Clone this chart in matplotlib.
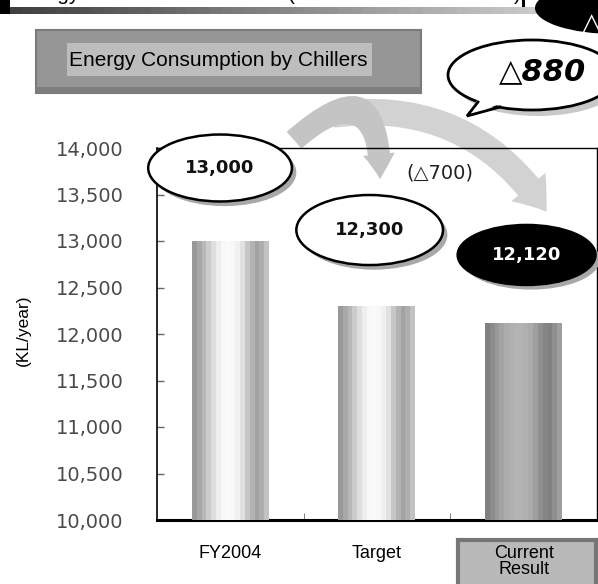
import matplotlib.pyplot as plt
import numpy as np
from matplotlib.patches import Ellipse, Rectangle, FancyArrowPatch, Polygon
from matplotlib.ticker import FuncFormatter

# chiller energy use, KL/year
categories = ["FY2004", "Target", "Current\nResult"]
consumption = [13000, 12300, 12120]
y_ticks = [10000, 10500, 11000, 11500, 12000, 12500, 13000, 13500, 14000]

# callout layout (offsets from the bar top, in data units)
label_dx = [-0.07, -0.05, 0.02]
label_dy = [785, 818, 730]
label_w = [0.98, 1.0, 0.94]
label_h = [720, 753, 645]
label_face = ["white", "white", "black"]
label_text = ["#111111", "#111111", "white"]

# grey shading across each cylinder-like bar
light_profile = [0.60, 0.66, 0.72, 0.80, 0.87, 0.93, 0.97, 0.98,
                 0.97, 0.94, 0.88, 0.78, 0.70, 0.64, 0.68, 0.76]
dark_profile = [0.50, 0.55, 0.60, 0.64, 0.67, 0.69, 0.70, 0.70,
                0.69, 0.67, 0.62, 0.56, 0.52, 0.50, 0.56, 0.62]
bar_profiles = [light_profile, light_profile, dark_profile]

plt.rcParams['font.family'] = ['Liberation Sans', 'DejaVu Sans']

fig = plt.figure(figsize=(5.98, 5.84), dpi=100)

# pixel-space layer for the header, title box, arrows and speech bubble
deco = fig.add_axes([0, 0, 1, 1], zorder=0)
deco.set_xlim(0, 598)
deco.set_ylim(584, 0)
deco.axis('off')

ax = fig.add_axes([157 / 598, 1 - 520 / 584, 440 / 598, 372 / 584], zorder=1)
ax.patch.set_alpha(0)

# bars with a vertical stripe gradient
x = np.arange(len(categories))
bw = 0.525
ax.set_xlim(-0.5, 2.5)
ax.set_ylim(y_ticks[0], y_ticks[-1])
bars = ax.bar(x, consumption, width=bw, color="#bbbbbb", zorder=2)
for b, xi, v, prof in zip(bars, x, consumption, bar_profiles):
    im = ax.imshow(np.array(prof)[np.newaxis, :], cmap='gray', vmin=0, vmax=1,
                   extent=(xi - bw / 2, xi + bw / 2, y_ticks[0], v),
                   aspect='auto', interpolation='nearest', zorder=3)
    im.set_clip_path(b)
ax.set_xlim(-0.5, 2.5)
ax.set_ylim(y_ticks[0], y_ticks[-1])
ax.set_aspect('auto')

# axes styling
ax.set_yticks(y_ticks)
ax.yaxis.set_major_formatter(FuncFormatter(lambda v, p: f"{int(v):,}"))
ax.tick_params(axis='y', direction='in', length=5, width=1, color='#666666',
               pad=24, labelsize=14, labelcolor='#4a4a4a')
for t in ax.get_yticklabels():
    t.set_fontfamily('DejaVu Sans')
ax.set_xticks(x, categories)
ax.tick_params(axis='x', length=0, pad=18, labelsize=13)
for t in ax.get_xticklabels():
    t.set_linespacing(0.9)
ax.set_xticks([0.5, 1.5], minor=True)
ax.tick_params(axis='x', which='minor', direction='in', length=5, color='#666666')
ax.spines['left'].set_linewidth(1.2)
ax.spines['top'].set_linewidth(1.0)
ax.spines['right'].set_linewidth(1.0)
ax.spines['bottom'].set_linewidth(2.2)

# grey box behind the last category name
ax.add_patch(Rectangle((2 - 0.445, -0.3), 0.935, 0.246,
                       transform=ax.get_xaxis_transform(), clip_on=False,
                       facecolor='#b9b9b9', edgecolor='#767676', lw=3, zorder=1))

# value callouts
for xi, v, dx, dy, w, h, fc, tc in zip(x, consumption, label_dx, label_dy,
                                       label_w, label_h, label_face, label_text):
    cx, cy = xi + dx, v + dy
    ax.add_patch(Ellipse((cx + 0.03, cy - 50), w, h, facecolor='#a8a8a8',
                         edgecolor='none', clip_on=False, zorder=4))
    ax.add_patch(Ellipse((cx, cy), w, h, facecolor=fc, edgecolor='black',
                         lw=1.8, clip_on=False, zorder=5))
    ax.text(cx, cy, f"{v:,}", ha='center', va='center', fontsize=13,
            fontweight='bold', family='DejaVu Sans', color=tc, zorder=6)

ax.text(1.43, 13730, f"(△{consumption[0] - consumption[1]})", ha='center',
        va='center', fontsize=14, family='DejaVu Sans', color='#222222', zorder=6)

fig.text(23 / 598, 1 - 330 / 584, "(KL/year)", rotation=90, fontsize=12.5,
         ha='center', va='center')

# cropped header strip along the top edge
deco.add_patch(Rectangle((0, 0), 525, 14, facecolor='black', edgecolor='none'))
deco.imshow(np.linspace(0.25, 0.85, 50)[np.newaxis, :], cmap='gray', vmin=0, vmax=1,
            extent=(10, 598, 14, 7), aspect='auto', zorder=1)
deco.add_patch(Rectangle((10, -1), 512, 8, facecolor='white', edgecolor='none', zorder=2))
for s, px in [("Energy", 13), ("(", 288), (")", 514)]:
    deco.text(px, 0.5, s, fontsize=15, va='baseline', ha='left', zorder=3)
deco.set_xlim(0, 598)
deco.set_ylim(584, 0)

# title box
deco.add_patch(Rectangle((36, 30), 385, 63, facecolor='#969696',
                         edgecolor='#7a7a7a', lw=1.5, zorder=2))
deco.add_patch(Rectangle((36, 87), 385, 6, facecolor='#7e7e7e',
                         edgecolor='none', zorder=2))
deco.add_patch(Rectangle((67, 43), 305, 33, facecolor='#bdbdbd',
                         edgecolor='none', zorder=3))
deco.text(69, 60, "Energy Consumption by Chillers", fontsize=15,
          ha='left', va='center', zorder=4)

# curved arrows from FY2004 toward the later values
deco.add_patch(FancyArrowPatch((330, 115), (548, 214), connectionstyle='arc3,rad=-0.32',
                               arrowstyle='simple,head_width=32,head_length=22,tail_width=19',
                               mutation_scale=1, facecolor='#d2d2d2', edgecolor='none',
                               zorder=2))
deco.add_patch(FancyArrowPatch((292, 142), (380, 182), connectionstyle='arc3,rad=-1.14',
                               arrowstyle='simple,head_width=23,head_length=18,tail_width=16',
                               mutation_scale=1, facecolor='#c4c4c4', edgecolor='none',
                               zorder=3))

# black bubble cut off at the corner
deco.add_patch(Ellipse((615, 8), 160, 52, facecolor='black', edgecolor='none', zorder=2))
deco.text(592, 24, "△", fontsize=20, fontweight='bold', family='DejaVu Sans',
          color='white', ha='center', va='center', zorder=3)

# speech bubble with total reduction
deco.add_patch(Ellipse((538, 81), 168, 70, facecolor='#c8c8c8', edgecolor='none', zorder=3))
deco.add_patch(Ellipse((532, 75), 168, 70, facecolor='white', edgecolor='black',
                       lw=2, zorder=4))
deco.add_patch(Polygon([(478, 99), (467, 116), (500, 104)], closed=True,
                       facecolor='white', edgecolor='none', zorder=5))
deco.plot([478, 467, 500], [102, 116, 107], color='black', lw=2, zorder=6,
          solid_joinstyle='miter')
deco.text(543, 72, f"△{consumption[0] - consumption[2]}", fontsize=22,
          fontweight='bold', fontstyle='italic', family='DejaVu Sans',
          ha='center', va='center', zorder=6)
deco.set_xlim(0, 598)
deco.set_ylim(584, 0)

fig.savefig("out.png", dpi=100)
